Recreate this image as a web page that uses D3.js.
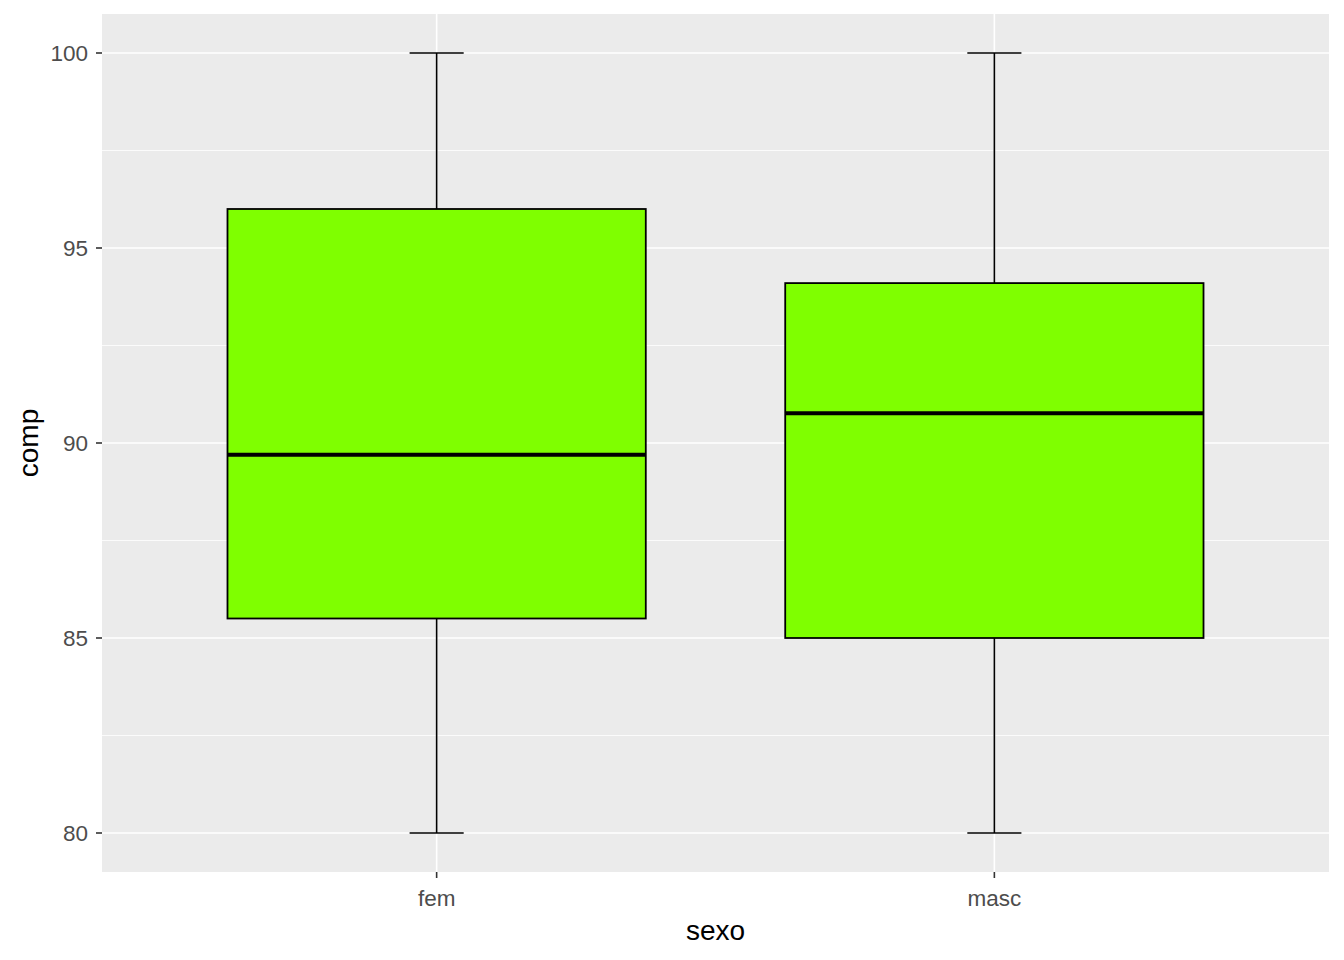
<!DOCTYPE html>
<html>
<head>
<meta charset="utf-8">
<script src="https://cdn.jsdelivr.net/npm/d3@7"></script>
<style>
  body { margin: 0; background: #fff; }
  svg text { font-family: Arial, "Liberation Sans", sans-serif; }
</style>
</head>
<body>
<div id="chart"></div>
<script>
// data
const categories = ['fem', 'masc'];
const lowerWhisker = [80, 80];
const q1Values = [85.5, 85];
const medianValues = [89.7, 90.76];
const q3Values = [96, 94.1];
const upperWhisker = [100, 100];
const yTicks = [80, 85, 90, 95, 100];
const yMinorTicks = [82.5, 87.5, 92.5, 97.5];

const boxes = categories.map((c, i) => ({
  cat: c,
  lo: lowerWhisker[i],
  q1: q1Values[i],
  med: medianValues[i],
  q3: q3Values[i],
  hi: upperWhisker[i],
}));

const W = 1344, H = 960;
const margin = { top: 14, right: 15, bottom: 88, left: 102 };
const width = W - margin.left - margin.right;
const height = H - margin.top - margin.bottom;

// discrete axis with ggplot's 0.6 expansion
const xScale = d3.scaleLinear().domain([0.4, 2.6]).range([0, width]);
const yScale = d3.scaleLinear().domain([79, 101]).range([height, 0]);
const unit = xScale(1) - xScale(0);

const svg = d3.select('#chart').append('svg')
  .attr('width', W)
  .attr('height', H);

const plot = svg.append('g')
  .attr('transform', `translate(${margin.left},${margin.top})`);

plot.append('rect')
  .attr('width', width)
  .attr('height', height)
  .attr('fill', '#EBEBEB');

// minor grid
plot.selectAll('line.minor')
  .data(yMinorTicks)
  .join('line')
  .attr('class', 'minor')
  .attr('x1', 0).attr('x2', width)
  .attr('y1', d => yScale(d)).attr('y2', d => yScale(d))
  .attr('stroke', '#fff').attr('stroke-width', 0.8);

// major grid
plot.selectAll('line.major-y')
  .data(yTicks)
  .join('line')
  .attr('class', 'major-y')
  .attr('x1', 0).attr('x2', width)
  .attr('y1', d => yScale(d)).attr('y2', d => yScale(d))
  .attr('stroke', '#fff').attr('stroke-width', 1.6);

plot.selectAll('line.major-x')
  .data(categories)
  .join('line')
  .attr('class', 'major-x')
  .attr('x1', (d, i) => xScale(i + 1)).attr('x2', (d, i) => xScale(i + 1))
  .attr('y1', 0).attr('y2', height)
  .attr('stroke', '#fff').attr('stroke-width', 1.6);

const g = plot.selectAll('g.box')
  .data(boxes)
  .join('g')
  .attr('class', 'box')
  .attr('transform', (d, i) => `translate(${xScale(i + 1)},0)`);

// whiskers
g.append('line')
  .attr('x1', 0).attr('x2', 0)
  .attr('y1', d => yScale(d.hi)).attr('y2', d => yScale(d.q3))
  .attr('stroke', '#000').attr('stroke-width', 1.6);
g.append('line')
  .attr('x1', 0).attr('x2', 0)
  .attr('y1', d => yScale(d.q1)).attr('y2', d => yScale(d.lo))
  .attr('stroke', '#000').attr('stroke-width', 1.6);

// caps (errorbar width 0.1)
const capHalf = unit * 0.1 / 2 * 0.97;
['hi', 'lo'].forEach(k => {
  g.append('line')
    .attr('x1', -capHalf).attr('x2', capHalf)
    .attr('y1', d => yScale(d[k])).attr('y2', d => yScale(d[k]))
    .attr('stroke', '#000').attr('stroke-width', 1.6);
});

// boxes
const boxHalf = unit * 0.75 / 2;
g.append('rect')
  .attr('x', -boxHalf)
  .attr('width', boxHalf * 2)
  .attr('y', d => yScale(d.q3))
  .attr('height', d => yScale(d.q1) - yScale(d.q3))
  .attr('fill', '#7FFF00')
  .attr('stroke', '#000')
  .attr('stroke-width', 1.8);

g.append('line')
  .attr('x1', -boxHalf).attr('x2', boxHalf)
  .attr('y1', d => yScale(d.med)).attr('y2', d => yScale(d.med))
  .attr('stroke', '#000').attr('stroke-width', 4);

// axes
const yAxis = plot.append('g');
yAxis.selectAll('line')
  .data(yTicks)
  .join('line')
  .attr('x1', -6).attr('x2', 0)
  .attr('y1', d => yScale(d)).attr('y2', d => yScale(d))
  .attr('stroke', '#333').attr('stroke-width', 1.6);
yAxis.selectAll('text')
  .data(yTicks)
  .join('text')
  .attr('x', -14)
  .attr('y', d => yScale(d))
  .attr('dy', '0.35em')
  .attr('text-anchor', 'end')
  .attr('font-size', 22.5)
  .attr('fill', '#4D4D4D')
  .text(d => d);

const xAxis = plot.append('g').attr('transform', `translate(0,${height})`);
xAxis.selectAll('line')
  .data(categories)
  .join('line')
  .attr('x1', (d, i) => xScale(i + 1)).attr('x2', (d, i) => xScale(i + 1))
  .attr('y1', 0).attr('y2', 6)
  .attr('stroke', '#333').attr('stroke-width', 1.6);
xAxis.selectAll('text')
  .data(categories)
  .join('text')
  .attr('x', (d, i) => xScale(i + 1))
  .attr('y', 34)
  .attr('text-anchor', 'middle')
  .attr('font-size', 22.5)
  .attr('fill', '#4D4D4D')
  .text(d => d);

svg.append('text')
  .attr('x', margin.left + width / 2)
  .attr('y', 940)
  .attr('text-anchor', 'middle')
  .attr('font-size', 28)
  .attr('fill', '#000')
  .text('sexo');

svg.append('text')
  .attr('transform', `translate(38,${margin.top + height / 2}) rotate(-90)`)
  .attr('text-anchor', 'middle')
  .attr('font-size', 28)
  .attr('fill', '#000')
  .text('comp');
</script>
</body>
</html>
